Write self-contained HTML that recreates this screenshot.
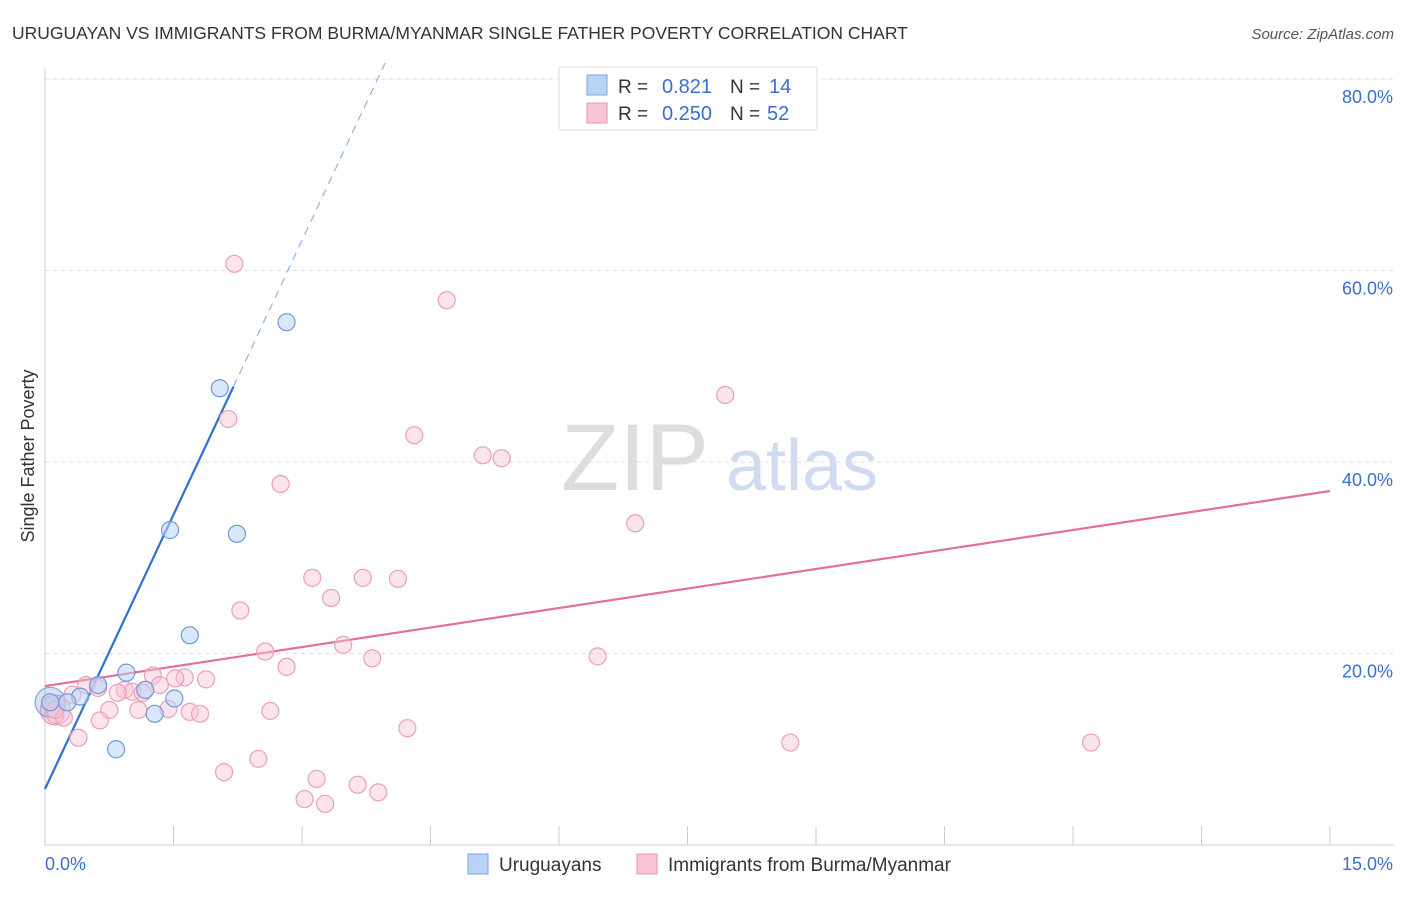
<!DOCTYPE html>
<html><head><meta charset="utf-8"><style>
body{margin:0;background:#fff;font-family:"Liberation Sans",sans-serif;}
svg text{font-family:"Liberation Sans",sans-serif;}
</style></head><body>
<svg id="chart" width="1406" height="892" xmlns="http://www.w3.org/2000/svg">
<text x="12" y="39" font-size="17.5" fill="#333">URUGUAYAN VS IMMIGRANTS FROM BURMA/MYANMAR SINGLE FATHER POVERTY CORRELATION CHART</text>
<text x="1394" y="39" font-size="15" fill="#555" text-anchor="end" font-style="italic">Source: ZipAtlas.com</text>
<g>
<text x="635" y="490" font-size="95" fill="#ddd" text-anchor="middle" font-family="Liberation Serif">ZIP</text>
<text x="802" y="490" font-size="72" fill="#cfdcf0" text-anchor="middle">atlas</text>
</g>
<g id="grid"></g>
<g id="axes"></g>
<g id="lines"></g>
<g id="pts"></g>
<text transform="translate(34,456) rotate(-90)" font-size="18" fill="#333" text-anchor="middle">Single Father Poverty</text>
<g>
<rect x="559" y="67" width="258" height="63" fill="#fff" stroke="#ddd"/>
<rect x="587" y="75" width="20" height="20" fill="#b9d3f5" stroke="#7ba6e0"/>
<rect x="587" y="103" width="20" height="20" fill="#f9c4d4" stroke="#e996b2"/>
<text x="618" y="93" font-size="19" fill="#333">R =</text><text x="712" y="93" font-size="20" fill="#3a6fd0" text-anchor="end">0.821</text>
<text x="730" y="93" font-size="19" fill="#333">N =</text><text x="769" y="93" font-size="20" fill="#3a6fd0">14</text>
<text x="618" y="120" font-size="19" fill="#333">R =</text><text x="712" y="120" font-size="20" fill="#3a6fd0" text-anchor="end">0.250</text>
<text x="730" y="120" font-size="19" fill="#333">N =</text><text x="767" y="120" font-size="20" fill="#3a6fd0">52</text>
</g>
<g>
<rect x="468" y="854" width="20" height="20" fill="#b9d3f5" stroke="#7ba6e0"/>
<text x="499" y="871" font-size="19" fill="#333">Uruguayans</text>
<rect x="637" y="854" width="20" height="20" fill="#f9c4d4" stroke="#e996b2"/>
<text x="668" y="871" font-size="19" fill="#333">Immigrants from Burma/Myanmar</text>
</g>
</svg>
<script>
const yTicks=[20,40,60,80];
const yTickLabels=["20.0%","40.0%","60.0%","80.0%"];
const xTickLabels=["0.0%","15.0%"];
const uruX=[2.82,2.04,1.46,2.24,1.69,0.95,0.62,1.17,1.51,0.41,0.26,1.28,0.83,0.06];
const uruY=[54.6,47.7,32.9,32.5,21.9,18.0,16.7,16.2,15.3,15.5,14.9,13.7,10.0,14.9];
const burX=[2.21,4.69,7.94,2.14,4.31,5.11,5.33,2.75,6.89,3.12,3.71,4.12,3.34,2.28,3.48,2.57,3.82,6.45,2.82,1.26,1.88,1.63,1.52,0.48,0.62,0.93,1.02,0.85,1.34,0.32,1.14,0.75,1.09,1.44,1.69,1.81,2.63,0.12,0.22,0.64,4.23,0.39,2.49,2.09,8.70,12.21,3.17,3.65,3.03,3.89,3.27,0.12];
const burY=[60.7,56.9,47.0,44.5,42.8,40.7,40.4,37.7,33.6,27.9,27.9,27.8,25.8,24.5,20.9,20.2,19.5,19.7,18.6,17.7,17.3,17.5,17.4,16.7,16.4,16.2,16.0,15.9,16.7,15.7,15.9,14.1,14.1,14.2,13.9,13.7,14.0,13.6,13.3,13.0,12.2,11.2,9.0,7.6,10.7,10.7,6.9,6.3,4.8,5.5,4.3,14.1];
const uruBig=[0.06,14.9];
const burBig=[0.12,14.1];
const uruTrend=[5.85,19.1];   // intercept, slope
const burTrend=[16.6,1.358];
const NS="http://www.w3.org/2000/svg";
const sx=v=>45+v*(1285/15), sy=v=>845-v*9.575;
function mk(p,t,a){const e=document.createElementNS(NS,t);for(const k in a)e.setAttribute(k,a[k]);p.appendChild(e);return e;}
const grid=document.getElementById('grid'),axes=document.getElementById('axes'),lines=document.getElementById('lines'),pts=document.getElementById('pts');
yTicks.forEach((v,i)=>{
 const l=mk(grid,'line',{x1:45,x2:1394,y1:sy(v),y2:sy(v),stroke:'#ddd','stroke-dasharray':'4,4'});
 
 
 const t=mk(axes,'text',{x:1393,y:sy(v)+24,'font-size':18,fill:'#3a6fd0','text-anchor':'end'});
 t.textContent=yTickLabels[i];
 
 
});
mk(axes,'line',{x1:45,x2:45,y1:68,y2:845,stroke:'#ccc'});
mk(axes,'line',{x1:45,x2:1394,y1:845,y2:845,stroke:'#ccc'});
for(let i=0;i<=10;i++){const x=sx(i*1.5);const l=mk(axes,'line',{x1:x,x2:x,y1:826,y2:845,stroke:'#ccc'});
 
 }
const xt0=mk(axes,'text',{x:45,y:870,'font-size':18,fill:'#3a6fd0'});xt0.textContent=xTickLabels[0];


const xt1=mk(axes,'text',{x:1393,y:870,'font-size':18,fill:'#3a6fd0','text-anchor':'end'});xt1.textContent=xTickLabels[1];


function dot(x,y,r,fill,stroke,name){const c=mk(pts,'circle',{cx:sx(x),cy:sy(y),r:r,fill:fill,stroke:stroke,'stroke-width':1.2});
 
 }
dot(burBig[0],burBig[1],15,'rgba(240,150,180,0.35)','#e996b2','burma-point-large');
dot(uruBig[0],uruBig[1],15,'rgba(150,170,220,0.35)','#7ba6e0','uruguayan-point-large');
burX.forEach((x,i)=>dot(x,burY[i],8.5,'rgba(249,196,212,0.45)','#eaa0b8','burma-point'));
uruX.forEach((x,i)=>dot(x,uruY[i],8.5,'rgba(185,211,245,0.55)','#6f9ad8','uruguayan-point'));
const ub=mk(lines,'line',{x1:sx(0),y1:sy(uruTrend[0]),x2:sx(2.2),y2:sy(uruTrend[0]+uruTrend[1]*2.2),stroke:'#2f6fd6','stroke-width':2.2});


const ud=mk(lines,'line',{x1:sx(2.2),y1:sy(uruTrend[0]+uruTrend[1]*2.2),x2:sx(3.97),y2:sy(uruTrend[0]+uruTrend[1]*3.97),stroke:'#8fb2e8','stroke-width':1.2,'stroke-dasharray':'8,6'});


const bl=mk(lines,'line',{x1:sx(0),y1:sy(burTrend[0]),x2:sx(15),y2:sy(burTrend[0]+burTrend[1]*15),stroke:'#e4709a','stroke-width':2.2});


</script>
</body></html>
